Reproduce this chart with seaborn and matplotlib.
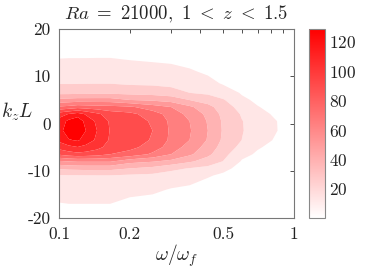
import numpy as np
import matplotlib
matplotlib.use('Agg')
import matplotlib.pyplot as plt
import seaborn as sns
from matplotlib.colors import Normalize
from matplotlib.cm import ScalarMappable

# grid: frequency (log axis) and vertical wavenumber
omega = [0.1, 0.11, 0.12, 0.13, 0.145, 0.165, 0.2, 0.25, 0.3, 0.36, 0.43, 0.5, 0.6, 0.7, 0.8, 0.9, 1.0]
kz = [-20, -17, -14, -11, -9.5, -8, -6.5, -5, -3.5, -1.5, 0.5, 2, 3.5, 5, 6.5, 8.5, 11, 14, 17, 20]

# estimated spectrum, one row per omega, columns follow kz
power = [
    [5, 11.5, 17, 22.5, 37, 57, 84, 98, 108, 112, 110, 100, 72, 50, 32, 23, 17.5, 11.5, 6, 2],
    [5, 12, 17.5, 23, 38, 59, 88, 102, 116, 125, 120, 106, 74, 51, 32, 23, 17.7, 11.7, 6, 2],
    [5, 12, 17.8, 23, 38.5, 60, 90, 105, 118.5, 128.6, 125, 111, 77, 52, 32.5, 23, 17.9, 11.7, 6, 2],
    [5, 12, 18, 23.2, 39, 60, 89, 102, 112, 117, 113, 104, 76, 52, 32.5, 23.2, 18, 11.7, 6, 2],
    [5, 12, 18, 23.3, 39, 60, 87, 97, 103, 105.3, 103, 96, 75, 52, 33, 23.3, 18, 11.8, 6, 2],
    [5, 12, 18, 23.3, 39, 60, 82, 89, 92, 93, 92, 88, 74, 52, 33, 23.3, 18, 11.8, 6, 2],
    [4, 9, 15.5, 22, 35.3, 51, 78, 85, 87, 88, 87.5, 85, 72, 47, 32, 22, 17, 10.8, 5.5, 2],
    [3, 8, 14, 21, 32, 48, 68, 77, 81, 82, 80.5, 76, 64, 45, 31, 21.5, 16, 10, 5, 2],
    [2.5, 6.5, 11.2, 19.5, 26, 44, 58.6, 64, 67.5, 68.2, 67.5, 65, 58.6, 42, 29, 20, 15, 9.5, 4.5, 1.5],
    [2, 5.5, 9.5, 17.5, 23, 37, 49, 54, 58.5, 59.5, 58.5, 55, 49, 35, 23.6, 18.5, 13, 8.5, 4, 1],
    [1.5, 4, 7, 13, 20.5, 30, 38, 42, 46, 47, 46, 44, 39, 30, 21.5, 15, 10.5, 6.5, 3, 1],
    [1, 2.5, 5, 10, 15, 23.3, 27, 30.5, 33, 33.9, 33.5, 32, 29, 24.5, 17.5, 11, 9, 5, 2.5, 0.8],
    [0.5, 1.5, 3, 5.5, 8, 11, 15, 20, 23.5, 24.2, 24, 22.5, 19, 14, 11, 9, 6, 3.5, 1.5, 0.5],
    [0.3, 1, 2, 4, 5.5, 7.5, 10.5, 13, 16, 18.8, 18.5, 16, 12.5, 10, 8, 6, 4, 2, 1, 0.3],
    [0.3, 0.8, 1.5, 3, 4.5, 6, 8, 10, 12.3, 14.1, 13.8, 11.7, 9.5, 7.5, 6, 4.5, 3, 1.5, 0.8, 0.3],
    [0.3, 0.6, 1.2, 2.5, 3.5, 4.5, 6, 7.5, 9, 10, 10, 9, 7.5, 6, 5, 3.5, 2.5, 1.2, 0.6, 0.3],
    [0.3, 0.5, 0.9, 1.8, 2.5, 3.2, 4.2, 5.2, 6.3, 7, 7, 6.3, 5.2, 4.2, 3.5, 2.5, 1.8, 0.9, 0.5, 0.3],
]

levels = [12, 23.6, 35.3, 47, 58.6, 70.3, 82, 93.6, 105.3, 117, 135]
cbar_ticks = [20, 40, 60, 80, 100, 120]
x_ticks = [0.1, 0.2, 0.3, 0.4, 0.5, 0.6, 0.7, 0.8, 0.9, 1.0]
x_ticklabels = ['0.1', '0.2', '', '', '0.5', '', '', '', '', '1']
y_ticks = [-20, -10, 0, 10, 20]

sns.set_theme(style='white')
plt.rcParams['font.family'] = 'serif'
plt.rcParams['font.serif'] = ['cmr10', 'DejaVu Serif']
plt.rcParams['mathtext.fontset'] = 'cm'
plt.rcParams['axes.unicode_minus'] = False
plt.rcParams['axes.formatter.use_mathtext'] = True

reds = sns.blend_palette(['white', 'red'], as_cmap=True)
vmin, vmax = 0.3, 128.6
band_colors = [reds(i / 10) for i in range(1, 11)]

fig = plt.figure(figsize=(3.74, 2.71), dpi=100)
ax = fig.add_axes([0.158, 0.1956, 0.628, 0.697])
cax = fig.add_axes([0.826, 0.1956, 0.043, 0.697])

W, K = np.meshgrid(omega, kz, indexing='ij')
ax.contourf(W, K, np.array(power), levels=levels, colors=band_colors, antialiased=True)

ax.set_xscale('log')
ax.set_xlim(0.1, 1)
ax.set_ylim(-20, 20)
ax.set_xticks(x_ticks)
ax.set_xticklabels(x_ticklabels)
ax.xaxis.set_minor_locator(matplotlib.ticker.NullLocator())
ax.set_yticks(y_ticks)
ax.set_yticklabels([str(v) for v in y_ticks])

ax.tick_params(direction='in', length=3, width=0.6, color='#333333',
               top=True, right=True, labelsize=12.5, labelcolor='#222222')
ax.tick_params(axis='y', pad=6)
ax.tick_params(axis='x', pad=6)
for s in ax.spines.values():
    s.set_color('#777777')
    s.set_linewidth(0.8)

ax.set_xlabel(r'$\omega/\omega_f$', fontsize=14)
ax.xaxis.label.set_verticalalignment('center')
ax.xaxis.set_label_coords(0.5, -0.2)
ax.set_ylabel(r'$k_zL$', fontsize=14, rotation=0, ha='center', va='center')
ax.yaxis.set_label_coords(-0.18, 0.56)
ax.text(0.5, 1.075, r'$Ra\ =\ 21000,\ 1\ <\ z\ <\ 1.5$', transform=ax.transAxes,
        ha='center', va='center', fontsize=13.5)

sm = ScalarMappable(norm=Normalize(vmin, vmax), cmap=reds)
cb = fig.colorbar(sm, cax=cax, ticks=cbar_ticks)
cb.ax.tick_params(direction='in', length=2.5, width=0.6, color='#333333',
                  labelsize=12.5, labelcolor='#222222', pad=3)
cb.outline.set_edgecolor('#888888')
cb.outline.set_linewidth(0.8)

fig.savefig('out.png', dpi=100)
